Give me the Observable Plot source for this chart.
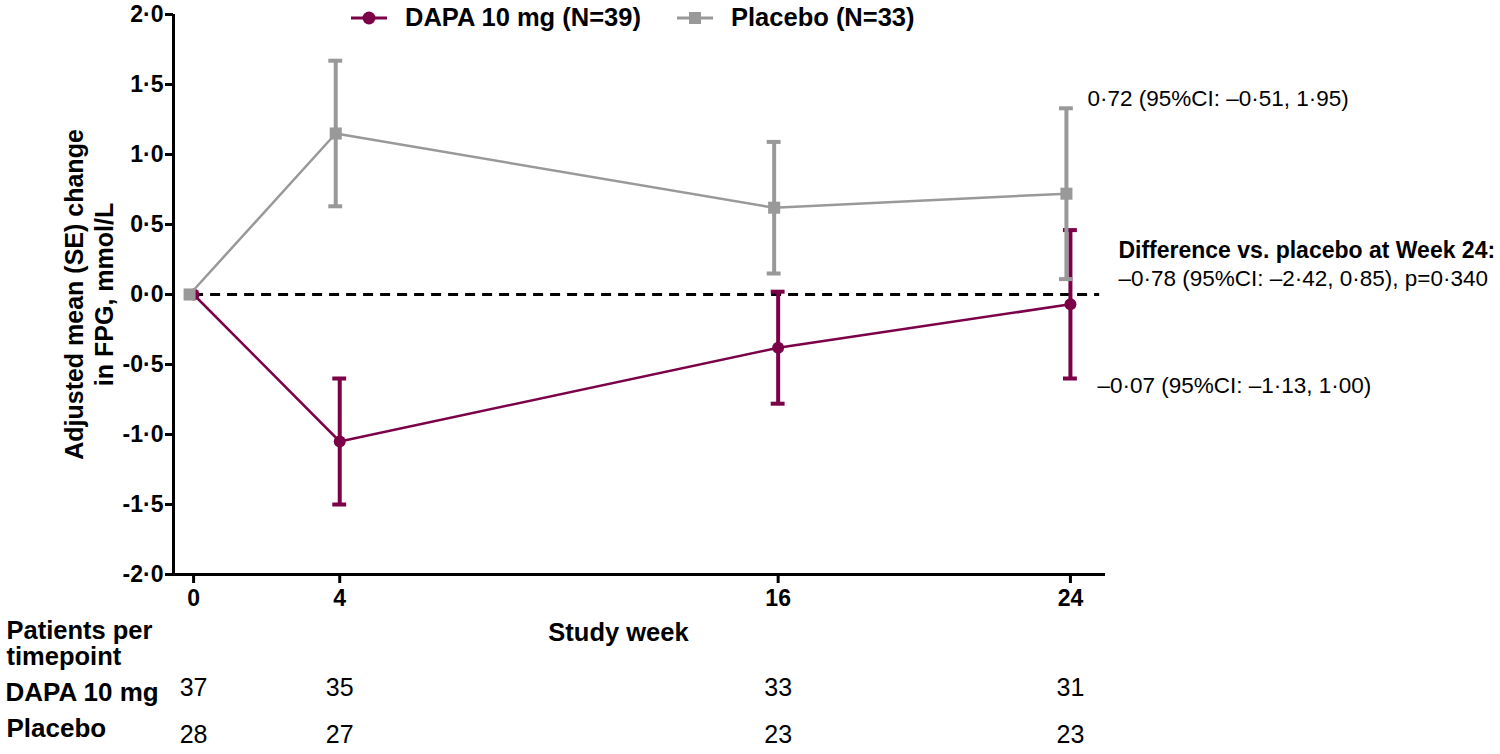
<!DOCTYPE html>
<html>
<head>
<meta charset="utf-8">
<script src="https://cdn.jsdelivr.net/npm/d3@7"></script>
<script src="https://cdn.jsdelivr.net/npm/@observablehq/plot@0.6"></script>
<style>
  body { margin: 0; background: #fff; font-family: "Liberation Sans", Arial, sans-serif; }
  #wrap { position: relative; width: 1500px; height: 754px; overflow: hidden; }
  #chart { position: absolute; left: 0; top: 0; }
  .lg { position: absolute; top: 3px; display: flex; align-items: center; font-weight: bold; font-size: 25.5px; color: #000; white-space: nowrap; }
  .lg svg { margin-right: 18px; }
</style>
</head>
<body>
<div id="wrap">
  <div id="chart"></div>
  <div id="legend"></div>
</div>
<script>
// ---- data ----
const weeks = [0, 4, 16, 24];
const dapaMean = [0, -1.05, -0.38, -0.07];
const dapaSE = [0, 0.45, 0.40, 0.53];
const placeboMean = [0, 1.15, 0.62, 0.72];
const placeboSE = [0, 0.52, 0.47, 0.61];
const dapaN = [37, 35, 33, 31];
const placeboN = [28, 27, 23, 23];
const yTicks = [-2, -1.5, -1, -0.5, 0, 0.5, 1, 1.5, 2];
const seriesNames = ["DAPA 10 mg (N=39)", "Placebo (N=33)"];
const rowLabels = ["DAPA 10 mg", "Placebo"];
const tableTitle = "Patients per\ntimepoint";
const xTitle = "Study week";
const yTitle = "Adjusted mean (SE) change\nin FPG, mmol/L";
const placeboNote = "0·72 (95%CI: –0·51, 1·95)";
const dapaNote = "–0·07 (95%CI: –1·13, 1·00)";
const diffTitle = "Difference vs. placebo at Week 24:";
const diffNote = "–0·78 (95%CI: –2·42, 0·85), p=0·340";
const colors = ["#7b0048", "#999999"];

// ---- derived tables ----
const mk = (means, ses, ns) => weeks.map((w, i) => ({
  week: w, mean: means[i], lo: means[i] - ses[i], hi: means[i] + ses[i], n: ns[i]
}));
const dapa = mk(dapaMean, dapaSE, dapaN);
const placebo = mk(placeboMean, placeboSE, placeboN);
const withBars = d => d.filter(r => r.hi > r.lo);
const last = d => [d[d.length - 1]];
const capHalf = 0.19;
const xDomain = [-0.55, 24.96];
const fmt = d => (d < 0 ? "-" : "") + Math.abs(d).toFixed(1).replace(".", "·");

function seriesMarks(data, color, symbol, r, dx) {
  return [
    Plot.line(data, {x: "week", y: "mean", stroke: color, strokeWidth: 2.5, dx}),
    Plot.ruleX(withBars(data), {x: "week", y1: "lo", y2: "hi", stroke: color, strokeWidth: 4, dx}),
    Plot.ruleY(withBars(data), {y: "lo", x1: d => d.week - capHalf, x2: d => d.week + capHalf, stroke: color, strokeWidth: 4, dx}),
    Plot.ruleY(withBars(data), {y: "hi", x1: d => d.week - capHalf, x2: d => d.week + capHalf, stroke: color, strokeWidth: 4, dx}),
    Plot.dot(data, {x: "week", y: "mean", symbol, r, fill: color, stroke: "none", dx})
  ];
}

const chart = Plot.plot({
  width: 1500,
  height: 754,
  marginLeft: 173,
  marginRight: 395,
  marginTop: 14,
  marginBottom: 180,
  x: {domain: xDomain},
  y: {domain: [-2, 2]},
  style: {fontFamily: "'Liberation Sans', Arial, sans-serif", background: "#fff", color: "#000", overflow: "visible"},
  marks: [
    Plot.axisY({ticks: yTicks, tickFormat: fmt, tickSize: 8, tickPadding: 2, fontSize: 23, fontWeight: "bold", strokeWidth: 3, label: null}),
    Plot.axisX({ticks: weeks, tickFormat: d => String(d), tickSize: 9, tickPadding: 6, fontSize: 23, fontWeight: "bold", strokeWidth: 3, label: null}),
    Plot.ruleX([xDomain[0]], {y1: -2, y2: 2, stroke: "#000", strokeWidth: 3}),
    Plot.ruleY([-2], {x1: xDomain[0], x2: xDomain[1], stroke: "#000", strokeWidth: 3}),
    Plot.ruleY([0], {x1: weeks[0], x2: 24.8, stroke: "#000", strokeWidth: 3, strokeDasharray: "10,7"}),
    ...seriesMarks(dapa, colors[0], "circle", 6, 0),
    ...seriesMarks(placebo, colors[1], "square", 6.8, -4),
    // y title
    Plot.text([yTitle], {frameAnchor: "left", text: d => d, textAnchor: "middle", lineAnchor: "middle", rotate: -90, dx: -85, fontSize: 25, fontWeight: "bold", lineHeight: 1.2}),
    // x title
    Plot.text([xTitle], {frameAnchor: "bottom", text: d => d, lineAnchor: "middle", dx: -21, dy: 58, fontSize: 25.5, fontWeight: "bold"}),
    // annotations at week 24
    Plot.text(last(placebo), {x: "week", y: "hi", text: () => placeboNote, textAnchor: "start", dx: 17, dy: -10, fontSize: 22.5}),
    Plot.text(last(dapa), {x: "week", y: "lo", text: () => dapaNote, textAnchor: "start", dx: 27, dy: 7, fontSize: 22.5}),
    Plot.text([0], {x: () => weeks[weeks.length - 1], y: d => d, text: () => diffTitle, textAnchor: "start", dx: 48, dy: -44, fontSize: 23, fontWeight: "bold"}),
    Plot.text([0], {x: () => weeks[weeks.length - 1], y: d => d, text: () => diffNote, textAnchor: "start", dx: 48, dy: -16, fontSize: 22.5}),
    // patients per timepoint table
    Plot.text([tableTitle], {frameAnchor: "bottom-left", text: d => d, textAnchor: "start", lineAnchor: "middle", dx: -167, dy: 69, fontSize: 25.5, fontWeight: "bold", lineHeight: 1.05}),
    Plot.text([rowLabels[0]], {frameAnchor: "bottom-left", text: d => d, textAnchor: "start", lineAnchor: "middle", dx: -168, dy: 118, fontSize: 26, fontWeight: "bold"}),
    Plot.text([rowLabels[1]], {frameAnchor: "bottom-left", text: d => d, textAnchor: "start", lineAnchor: "middle", dx: -167, dy: 154, fontSize: 26, fontWeight: "bold"}),
    Plot.text(dapa, {x: "week", frameAnchor: "bottom", text: "n", lineAnchor: "middle", dy: 113, fontSize: 25}),
    Plot.text(placebo, {x: "week", frameAnchor: "bottom", text: "n", lineAnchor: "middle", dy: 160, fontSize: 25})
  ]
});
document.getElementById("chart").appendChild(chart);

// ---- legend ----
const legend = d3.select("#legend");
const lgLeft = [351, 677];
seriesNames.forEach((name, i) => {
  const item = legend.append("div").attr("class", "lg").style("left", lgLeft[i] + "px");
  const s = item.append("svg").attr("width", 36).attr("height", 28);
  s.append("line").attr("x1", 0).attr("x2", 36).attr("y1", 14).attr("y2", 14).attr("stroke", colors[i]).attr("stroke-width", 3);
  if (i === 0) s.append("circle").attr("cx", 18).attr("cy", 14).attr("r", 6.5).attr("fill", colors[i]);
  else s.append("rect").attr("x", 12).attr("y", 8).attr("width", 12).attr("height", 12).attr("fill", colors[i]);
  item.append("span").text(name);
});
</script>
</body>
</html>
